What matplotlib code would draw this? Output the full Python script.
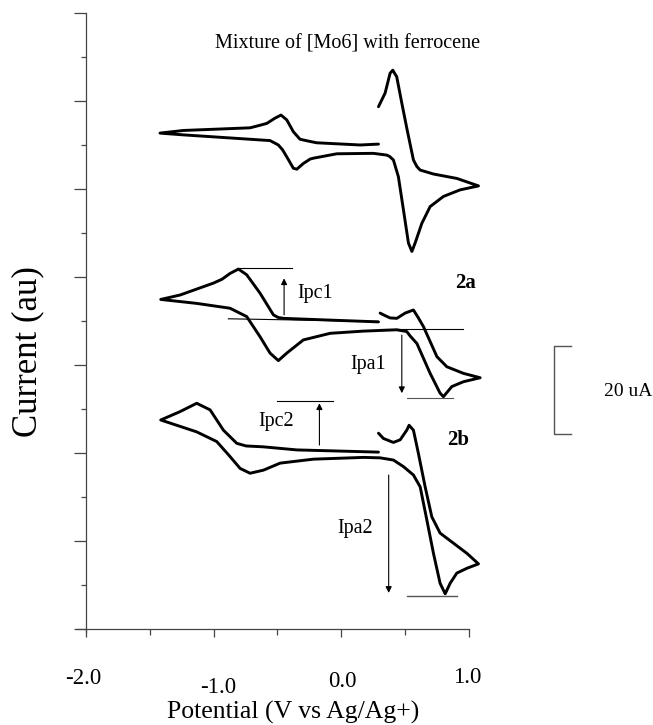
import matplotlib
matplotlib.use("Agg")
from matplotlib import pyplot as plt

plt.rcParams["font.family"] = ["Liberation Serif", "DejaVu Serif"]

# top curve: mixture of [Mo6] with ferrocene (V, current)
mix_v = [0.293, 0.345, 0.384, 0.405, 0.436, 0.476, 0.518, 0.567, 0.594, 0.620, 0.724, 0.907, 1.077,
         0.933, 0.802, 0.698, 0.633, 0.580, 0.555, 0.528, 0.489, 0.449, 0.410, 0.380, 0.358, 0.253,
         -0.034, -0.217, -0.243, -0.296, -0.347, -0.374, -0.426, -0.459, -0.492, -0.557, -0.714, -0.975,
         -1.237, -1.420, -1.237, -0.975, -0.714, -0.647, -0.583, -0.518, -0.471, -0.426, -0.374, -0.322,
         -0.243, -0.191, 0.149, 0.293]
mix_i = [118.7, 121.8, 126.3, 127.0, 125.5, 119.5, 113.4, 106.6, 105.1, 104.3, 103.4, 102.4, 100.7,
         99.8, 98.3, 96.0, 92.2, 87.7, 85.8, 87.7, 95.2, 102.8, 106.6, 107.4, 107.7, 108.1,
         108.0, 107.0, 106.8, 105.8, 104.5, 104.7, 107.3, 108.9, 110.0, 111.0, 111.3, 111.8,
         112.3, 112.7, 113.3, 113.6, 113.9, 114.4, 114.9, 116.1, 116.8, 115.7, 113.0, 111.3,
         110.8, 110.5, 110.0, 110.2]

# curve 2a
a_v = [0.306, 0.332, 0.384, 0.437, 0.502, 0.567, 0.606, 0.646, 0.751, 0.829, 0.959, 1.090,
       0.959, 0.868, 0.802, 0.776, 0.698, 0.594, 0.541, 0.515, 0.437, 0.175, -0.086, -0.296, -0.426,
       -0.492, -0.557, -0.635, -0.740, -0.871, -1.132, -1.414, -1.263, -1.002, -0.933, -0.871, -0.805,
       -0.740, -0.635, -0.531, -0.494, -0.452, -0.086, 0.293]
a_i = [71.8, 71.4, 70.7, 70.6, 71.8, 72.5, 70.7, 68.7, 61.9, 59.6, 58.1, 57.1,
       56.2, 55.1, 52.8, 53.6, 58.1, 64.9, 66.6, 67.6, 68.0, 67.7, 67.2, 65.7, 62.7,
       61.0, 62.7, 66.4, 71.0, 72.9, 74.0, 74.9, 75.9, 78.6, 79.5, 80.8, 81.8,
       80.5, 76.3, 71.4, 70.8, 70.6, 70.2, 69.8]

# curve 2b
b_v = [0.293, 0.332, 0.410, 0.463, 0.515, 0.533, 0.567, 0.606, 0.659, 0.711, 0.776, 0.881,
       0.986, 1.077, 0.986, 0.907, 0.855, 0.816, 0.776, 0.724, 0.672, 0.620, 0.567, 0.489,
       0.410, 0.306, 0.175, -0.217, -0.478, -0.609, -0.714, -0.792, -0.871, -0.975, -1.132,
       -1.414, -1.263, -1.132, -1.027, -0.923, -0.818, -0.745, -0.609, -0.347, -0.086, 0.293]
b_i = [44.5, 43.3, 42.4, 43.0, 45.2, 46.3, 45.2, 39.9, 32.3, 25.5, 21.8, 19.5,
       17.2, 14.8, 13.8, 12.7, 10.4, 8.0, 10.4, 17.2, 24.8, 32.3, 35.0, 36.9,
       38.4, 38.9, 39.0, 38.6, 37.7, 36.1, 35.4, 36.5, 39.2, 42.6, 44.8,
       47.5, 49.4, 51.3, 49.8, 45.2, 42.2, 41.6, 41.4, 40.7, 40.5, 40.2]

x_ticks = [-2.0, -1.0, 0.0, 1.0]
x_labels = ["-2.0", "-1.0", "0.0", "1.0"]

fig = plt.figure(figsize=(6.53, 7.25), dpi=100)
ax = fig.add_axes([0.1317, 0.1324, 0.586, 0.8497])
ax.set_xlim(-2.0, 1.0)
ax.set_ylim(0, 140)

for v, i in [(mix_v, mix_i), (a_v, a_i), (b_v, b_i)]:
    ax.plot(v, i, color="black", lw=2.1, clip_on=False, solid_joinstyle="round", solid_capstyle="round")

# peak current guide lines (2a)
thin = dict(color="black", lw=0.8, clip_on=False)
ax.plot([-0.818, -0.387], [82.0, 82.0], **thin)
ax.plot([-0.884, 0.290], [70.5, 69.9], **thin)
ax.plot([0.306, 0.957], [68.2, 68.2], **thin)
ax.plot([0.515, 0.881], [52.6, 52.6], color="#555555", lw=0.8, clip_on=False)
# (2b)
ax.plot([-0.504, -0.065], [51.8, 51.8], **thin)
ax.plot([0.515, 0.907], [7.5, 7.5], color="#555555", lw=1.0, clip_on=False)

arrow = dict(arrowstyle="-|>", lw=0.8, color="black", mutation_scale=9, shrinkA=0, shrinkB=0)
ax.annotate("", xy=(-0.447, 79.7), xytext=(-0.447, 71.4), arrowprops=arrow)
ax.annotate("", xy=(0.476, 53.6), xytext=(0.476, 66.8), arrowprops=arrow)
ax.annotate("", xy=(-0.170, 51.3), xytext=(-0.170, 41.8), arrowprops=arrow)
ax.annotate("", xy=(0.373, 8.2), xytext=(0.373, 35.0), arrowprops=arrow)

ax.text(-0.204, 76.3, "Ipc1", fontsize=14.5, ha="center", va="center")
ax.text(-0.512, 47.1, "Ipc2", fontsize=14.5, ha="center", va="center")
ax.text(0.214, 60.0, "Ipa1", fontsize=14.5, ha="center", va="center")
ax.text(0.110, 22.9, "Ipa2", fontsize=14.5, ha="center", va="center")
ax.text(0.973, 78.6, "2a", fontsize=15, fontweight="bold", ha="center", va="center")
ax.text(0.920, 43.0, "2b", fontsize=15, fontweight="bold", ha="center", va="center")
ax.text(0.047, 133.0, "Mixture of [Mo6] with ferrocene", fontsize=14.5, ha="center", va="center")

# 20 uA scale bar
ax.plot([1.804, 1.671, 1.671, 1.804], [64.3, 64.3, 44.3, 44.3], color="#555555", lw=1.0, clip_on=False)
ax.text(2.06, 54.0, "20 uA", fontsize=14, ha="left", va="center")

# axes styling
ax.spines["top"].set_visible(False)
ax.spines["right"].set_visible(False)
for s in ["left", "bottom"]:
    ax.spines[s].set_color("#444444")
    ax.spines[s].set_linewidth(0.9)
ax.spines["bottom"].set_bounds(-2.07, 1.0)
ax.spines["left"].set_bounds(-0.7, 140)

ax.set_yticks(range(0, 141, 20))
ax.set_yticks(range(10, 140, 20), minor=True)
ax.set_xticks(x_ticks)
ax.set_xticks([-1.5, -0.5, 0.5], minor=True)
ax.set_xticklabels([])
ax.set_yticklabels([])
ax.tick_params(axis="y", which="major", direction="out", length=8.5, width=0.9, color="#444444")
ax.tick_params(axis="y", which="minor", direction="out", length=3.8, width=0.9, color="#444444")
ax.tick_params(axis="x", which="major", direction="out", length=6, width=0.9, color="#444444")
ax.tick_params(axis="x", which="minor", direction="out", length=4, width=0.9, color="#444444")

# tick labels (the -1.0 one sits a little lower in the original)
label_y = [-11.3, -13.4, -12.0, -11.1]
label_dx = [-0.02, 0.04, 0.01, -0.01]
for xt, lab, yy, dx in zip(x_ticks, x_labels, label_y, label_dx):
    ax.text(xt + dx, yy, lab, fontsize=16.5, ha="center", va="center", clip_on=False)

ax.text(-0.376, -19.0, "Potential (V vs Ag/Ag+)", fontsize=18.5, ha="center", va="center")
ax.text(-2.455, 63.0, "Current (au)", fontsize=25, rotation=90, ha="center", va="center")

plt.savefig("out.png", dpi=100)
